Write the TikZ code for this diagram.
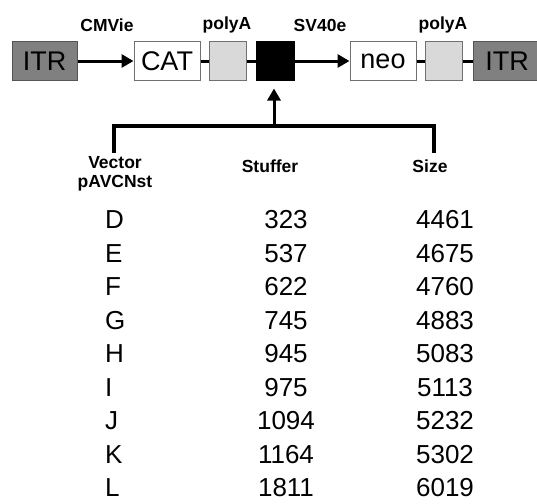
\documentclass[tikz,border=0pt]{standalone}
\usepackage{fontspec}
\setmainfont{Liberation Sans}
\usetikzlibrary{arrows.meta}
\definecolor{itrgray}{HTML}{808080}
\definecolor{itrborder}{HTML}{555555}
\definecolor{pagray}{HTML}{D9D9D9}
\definecolor{boxborder}{HTML}{707070}
\tikzset{
  x=1pt, y=-1pt,
  gbox/.style={draw=boxborder, line width=1pt, minimum height=38pt, inner sep=0pt, font=\fontsize{27}{30}\selectfont},
  itrbox/.style={gbox, fill=itrgray, draw=itrborder, minimum width=65pt},
  whitebox/.style={gbox, fill=white, minimum width=66pt},
  pabox/.style={gbox, fill=pagray, minimum width=37pt},
  blackbox/.style={gbox, fill=black, draw=black, minimum width=38pt},
  link/.style={line width=3pt},
  arr/.style={line width=3pt, -{Triangle[length=12pt,width=13pt]}},
  tree/.style={line width=3.5pt},
  lab/.style={font=\bfseries\fontsize{17.5}{20}\selectfont, inner sep=0pt},
  cell/.style={font=\fontsize{26}{30}\selectfont, inner sep=0pt}
}
\begin{document}
\begin{tikzpicture}
\clip (0,0) rectangle (537,503);
\fill[white] (0,0) rectangle (537,503);
% top construct
\node[itrbox] (itr1) at (44.5,61) {ITR};
\node[whitebox] (cat) at (167,61) {CAT};
\node[pabox] (pa1) at (228,61) {};
\node[blackbox] (stuf) at (275,61) {};
\node[whitebox] (neo) at (383,61) {neo};
\node[pabox] (pa2) at (444,61) {};
\node[itrbox, minimum width=68pt] (itr2) at (507,61) {ITR};
\draw[arr] (itr1) -- (cat);
\draw[link] (cat) -- (pa1);
\draw[link] (pa1) -- (stuf);
\draw[arr] (stuf) -- (neo);
\draw[link] (neo) -- (pa2);
\draw[link] (pa2) -- (itr2);
% labels above
\node[lab] (lcmv) at (107,25) {CMVie};
\node[lab] (lpa1) at (227,25) {polyA};
\node[lab] (lsv) at (320,25) {SV40e};
\node[lab] (lpa2) at (443,25) {polyA};
% tree
\coordinate (tl) at (114,153);
\coordinate (tc) at (274,126);
\coordinate (tr) at (434,153);
\draw[tree] (tl) |- (tc) -| (tr);
\draw[arr, shorten >=8pt] (tc) -- (tc |- stuf.south);
% column headers
\node[lab] (hv1) at (115,163) {Vector};
\node[lab] (hv2) at (115,183) {pAVCNst};
\node[lab] (hs) at (270,166) {Stuffer};
\node[lab] (hz) at (430,166) {Size};
% table
\foreach \l/\s/\z [count=\i from 0] in {D/323/4461,E/537/4675,F/622/4760,G/745/4883,H/945/5083,I/975/5113,J/1094/5232,K/1164/5302,L/1811/6019}{
  \node[cell, anchor=west] (r\i a) at (105,220+33.5*\i) {\l};
  \node[cell] (r\i b) at (286,220+33.5*\i) {\s};
  \node[cell] (r\i c) at (445,220+33.5*\i) {\z};
}
\end{tikzpicture}
\end{document}
